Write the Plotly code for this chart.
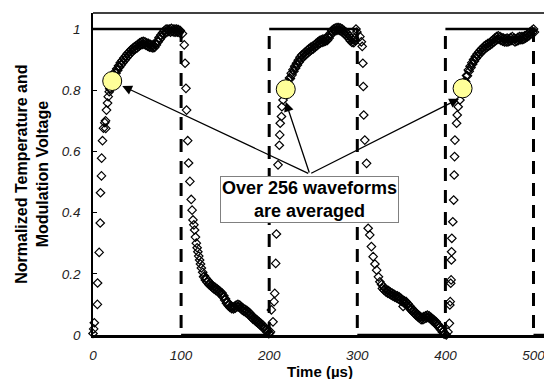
import plotly.graph_objects as go

# ---------------- data ----------------
# modulation square wave (corner points)
wave_t = [0, 100, 100, 200, 200, 300, 300, 400, 400, 500, 500, 525]
wave_v = [1, 1, 0, 0, 1, 1, 0, 0, 1, 1, 0, 0]

# measured normalized temperature, phase by phase (upper edge of each band)
rise1_t = [0.0, 0.8, 1.5, 5.0, 5.2, 7.0, 8.2, 8.5, 9.6, 9.8,
           10.8, 11.9, 13.4, 14.2, 14.5, 15.3, 16.5, 17.3, 18.4,
           19, 21, 23, 25, 27, 29, 31, 33, 35, 37,
           39, 41, 43, 45, 47, 49, 51, 53, 55, 57,
           59, 61, 63, 65, 67, 69, 71, 73, 75, 77,
           79, 81, 83, 85, 87, 89, 91, 93, 95, 97, 99]
rise1_v = [0.005, 0.02, 0.04, 0.10, 0.17, 0.27, 0.366, 0.465, 0.52, 0.578,
           0.635, 0.676, 0.694, 0.70, 0.675, 0.735, 0.758, 0.779, 0.795,
           0.805, 0.825, 0.845, 0.86, 0.87, 0.88, 0.89, 0.897, 0.905, 0.912,
           0.92, 0.925, 0.932, 0.937, 0.942, 0.946, 0.95, 0.955, 0.958, 0.96,
           0.958, 0.955, 0.953, 0.95, 0.948, 0.947, 0.952, 0.962, 0.972, 0.98,
           0.988, 0.995, 1.0, 1.0, 1.0, 1.002, 1.0, 1.0, 1.0, 0.998, 0.995]
# lower edge of the rise-1 band
rise1b_t = [20, 22, 24, 26, 28, 30, 32, 34, 36, 38,
            40, 42, 44, 46, 48, 50, 52, 54, 56, 58,
            60, 62, 64, 66, 68, 70, 72, 74, 76, 78,
            80, 82, 84, 86, 88, 90, 92, 94, 96, 98]
rise1b_v = [0.805, 0.825, 0.842, 0.855, 0.865, 0.875, 0.883, 0.89, 0.898, 0.905,
            0.912, 0.918, 0.925, 0.93, 0.934, 0.938, 0.943, 0.947, 0.95, 0.95,
            0.947, 0.944, 0.941, 0.94, 0.938, 0.94, 0.948, 0.958, 0.966, 0.974,
            0.982, 0.988, 0.99, 0.992, 0.99, 0.992, 0.99, 0.99, 0.99, 0.988]

fall1_t = [101.5, 103.6, 104.5, 105.5, 106.2, 107.5, 108.5, 110, 111.5, 112.5,
           113.5, 114.5, 115.3, 116.3, 117.3, 118.2, 119, 120, 121, 122,
           123, 124.5, 126.5, 128.5, 130.5, 132.5, 134.5, 136.5, 138.5, 140.5,
           142.5, 144.5, 146.5, 148.5, 150.5, 152.5, 154.5, 156.5, 158.5, 160.5,
           162.5, 164.5, 166.5, 168.5, 170.5, 172.5, 174.5, 176.5, 178.5, 180.5,
           182.5, 184.5, 186.5, 188.5, 190.5, 192.5, 194.5, 196.5, 198.5, 200.5]
fall1_v = [0.985, 0.948, 0.888, 0.806, 0.735, 0.635, 0.562, 0.502, 0.443, 0.408,
           0.376, 0.36, 0.343, 0.32, 0.30, 0.285, 0.272, 0.258, 0.245, 0.232,
           0.219, 0.205, 0.193, 0.185, 0.178, 0.17, 0.165, 0.16, 0.156, 0.152,
           0.147, 0.142, 0.137, 0.128, 0.118, 0.108, 0.10, 0.095, 0.092, 0.094,
           0.098, 0.10, 0.098, 0.092, 0.087, 0.084, 0.081, 0.076, 0.07, 0.063,
           0.058, 0.053, 0.048, 0.043, 0.038, 0.033, 0.027, 0.02, 0.013, 0.006]
fall1b_t = [125.5, 127.5, 129.5, 131.5, 133.5, 135.5, 137.5, 139.5, 141.5, 143.5,
            145.5, 147.5, 149.5, 151.5, 153.5, 155.5, 157.5, 159.5, 161.5, 163.5,
            165.5, 167.5, 169.5, 171.5, 173.5, 175.5, 177.5, 179.5, 181.5, 183.5,
            185.5, 187.5, 189.5, 191.5, 193.5, 195.5, 197.5, 199.5]
fall1b_v = [0.19, 0.18, 0.172, 0.165, 0.16, 0.155, 0.15, 0.146, 0.142, 0.137,
            0.132, 0.124, 0.114, 0.104, 0.096, 0.09, 0.086, 0.085, 0.088, 0.092,
            0.092, 0.087, 0.081, 0.077, 0.074, 0.07, 0.065, 0.058, 0.052, 0.048,
            0.043, 0.038, 0.033, 0.028, 0.022, 0.016, 0.01, 0.004]

rise2_t = [201.5, 202.5, 204.3, 205.5, 206.3, 207.4, 208.2, 208.8, 209.3, 209.7,
           210, 211.5, 212, 212.5, 213.9, 214.4, 215.7, 217.5,
           219, 221, 223, 225, 227, 229, 231, 233, 235, 237,
           239, 241, 243, 245, 247, 249, 251, 253, 255, 257,
           259, 261, 263, 265, 267, 269, 271, 273, 275, 277,
           279, 281, 283, 285, 287, 289, 291, 293, 295, 297, 298.5, 299.5]
rise2_v = [0.01, 0.082, 0.043, 0.109, 0.136, 0.234, 0.33, 0.39, 0.45, 0.50,
           0.556, 0.62, 0.654, 0.692, 0.714, 0.746, 0.768, 0.79,
           0.805, 0.825, 0.84, 0.855, 0.867, 0.878, 0.888, 0.898, 0.908, 0.915,
           0.92, 0.925, 0.93, 0.935, 0.94, 0.943, 0.947, 0.952, 0.957, 0.962,
           0.965, 0.967, 0.968, 0.97, 0.975, 0.985, 0.995, 1.0, 1.003, 1.005,
           1.005, 1.003, 1.0, 0.995, 0.99, 0.985, 0.978, 0.97, 0.965, 0.97, 1.0, 0.99]
rise2b_t = [220, 222, 224, 226, 228, 230, 232, 234, 236, 238,
            240, 242, 244, 246, 248, 250, 252, 254, 256, 258,
            260, 262, 264, 266, 268, 270, 272, 274, 276, 278,
            280, 282, 284, 286, 288, 290, 292, 294, 296, 298]
rise2b_v = [0.805, 0.823, 0.838, 0.85, 0.862, 0.872, 0.882, 0.892, 0.90, 0.906,
            0.912, 0.917, 0.922, 0.927, 0.932, 0.935, 0.94, 0.945, 0.95, 0.954,
            0.956, 0.958, 0.96, 0.963, 0.97, 0.98, 0.988, 0.993, 0.995, 0.996,
            0.995, 0.992, 0.987, 0.982, 0.977, 0.97, 0.962, 0.956, 0.955, 0.962]

fall2_t = [303, 304.6, 305.6, 306.3, 306.8, 307.3, 308.5, 310.5, 311, 311.5,
           312, 312.3, 314.2, 316, 318, 320, 322, 324, 325.6, 327.5,
           329.5, 331.5, 333.5, 335.5, 337.5, 339.5, 341.5, 343.5, 345.5, 347.5,
           349.5, 351.5, 352, 353.5, 355.5, 357.5, 359.5, 361.5, 363.5, 365.5,
           367.5, 369.5, 371.5, 373.5, 375.5, 377.5, 379.5, 381.5, 383.5, 385.5,
           387.5, 389.5, 391.5, 393.5, 395.5, 397.5, 399.5]
fall2_v = [0.975, 0.958, 0.943, 0.888, 0.812, 0.719, 0.637, 0.561, 0.50, 0.44,
           0.39, 0.349, 0.327, 0.289, 0.256, 0.232, 0.212, 0.19, 0.174, 0.165,
           0.158, 0.152, 0.148, 0.145, 0.14, 0.137, 0.134, 0.13, 0.128, 0.125,
           0.12, 0.115, 0.093, 0.112, 0.109, 0.102, 0.095, 0.088, 0.082, 0.076,
           0.07, 0.065, 0.06, 0.058, 0.06, 0.063, 0.065, 0.063, 0.058, 0.053,
           0.048, 0.043, 0.035, 0.028, 0.022, 0.012, 0.005]
fall2b_t = [328.5, 330.5, 332.5, 334.5, 336.5, 338.5, 340.5, 342.5, 344.5, 346.5,
            348.5, 350.5, 352.5, 354.5, 356.5, 358.5, 360.5, 362.5, 364.5, 366.5,
            368.5, 370.5, 372.5, 374.5, 376.5, 378.5, 380.5, 382.5, 384.5, 386.5,
            388.5, 390.5, 392.5, 394.5, 396.5, 398.5]
fall2b_v = [0.152, 0.146, 0.141, 0.137, 0.134, 0.13, 0.127, 0.124, 0.121, 0.118,
            0.114, 0.11, 0.106, 0.102, 0.097, 0.09, 0.083, 0.077, 0.071, 0.065,
            0.06, 0.055, 0.05, 0.05, 0.053, 0.056, 0.057, 0.054, 0.048, 0.043,
            0.038, 0.032, 0.025, 0.018, 0.01, 0.003]

rise3_t = [401, 403, 404.5, 405, 405.5, 406, 406.5, 406.8, 407, 407.3,
           408.4, 409.4, 410, 410.4, 410.8, 412.7, 413.4, 414.5, 416.5, 418,
           420, 422, 424, 426, 428, 430, 432, 434, 436, 438,
           440, 442, 444, 446, 448, 450, 452, 454, 456, 458,
           460, 462, 464, 466, 468, 470, 472, 474, 476, 478,
           480, 482, 484, 486, 488, 490, 492, 494, 496, 498, 500, 501]
rise3_v = [0.0, 0.01, 0.038, 0.098, 0.109, 0.169, 0.18, 0.245, 0.272, 0.316,
           0.37, 0.441, 0.523, 0.583, 0.637, 0.692, 0.719, 0.746, 0.768, 0.79,
           0.81, 0.83, 0.848, 0.866, 0.878, 0.89, 0.90, 0.91, 0.918, 0.925,
           0.932, 0.938, 0.944, 0.948, 0.952, 0.955, 0.96, 0.965, 0.97, 0.975,
           0.978, 0.975, 0.972, 0.97, 0.968, 0.97, 0.968, 0.972, 0.975, 0.97,
           0.968, 0.972, 0.975, 0.975, 0.975, 0.978, 0.98, 0.985, 0.99, 0.995, 1.0, 0.99]
rise3b_t = [421, 423, 425, 427, 429, 431, 433, 435, 437, 439,
            441, 443, 445, 447, 449, 451, 453, 455, 457, 459,
            461, 463, 465, 467, 469, 471, 473, 475, 477, 479,
            481, 483, 485, 487, 489, 491, 493, 495, 497, 499]
rise3b_v = [0.81, 0.828, 0.847, 0.862, 0.874, 0.885, 0.895, 0.904, 0.912, 0.918,
            0.925, 0.93, 0.936, 0.94, 0.944, 0.948, 0.952, 0.957, 0.962, 0.966,
            0.966, 0.963, 0.96, 0.958, 0.958, 0.958, 0.96, 0.963, 0.962, 0.958,
            0.96, 0.963, 0.965, 0.965, 0.967, 0.97, 0.974, 0.978, 0.984, 0.99]

# highlighted points (yellow circles) and arrow geometry
mark_t = [21.8, 218.8, 419.5]
mark_v = [0.83, 0.803, 0.806]
arrow_head_t = [33.2, 218.75, 415.5]
arrow_head_v = [0.814, 0.762, 0.772]
arrow_tail = (246.0, 0.526)
note_pos = (245.5, 0.444)
note_text = "Over 256 waveforms<br>are averaged"

x_ticks = [0, 100, 200, 300, 400, 500]
y_ticks = [0, 0.2, 0.4, 0.6, 0.8, 1]
y_tick_text = ["0", "0.2", "0.4", "0.6", "0.8", "1"]

FONT = "Liberation Sans, Arial, sans-serif"

# ---------------- figure ----------------
fig = go.Figure()

# square wave: horizontal parts solid, vertical edges dashed
hx, hy, vx, vy = [], [], [], []
for i in range(len(wave_t) - 1):
    if wave_v[i] == wave_v[i + 1]:
        hx += [wave_t[i], wave_t[i + 1], None]
        hy += [wave_v[i], wave_v[i + 1], None]
    else:
        vx += [wave_t[i], wave_t[i + 1], None]
        vy += [wave_v[i], wave_v[i + 1], None]

fig.add_trace(go.Scatter(x=vx, y=vy, mode="lines",
                         line=dict(color="black", width=3, dash="13px,9px"),
                         hoverinfo="skip", showlegend=False))
fig.add_trace(go.Scatter(x=hx, y=hy, mode="lines",
                         line=dict(color="black", width=2.5),
                         hoverinfo="skip", showlegend=False))

phases = [(rise1_t, rise1_v, rise1b_t, rise1b_v),
          (fall1_t, fall1_v, fall1b_t, fall1b_v),
          (rise2_t, rise2_v, rise2b_t, rise2b_v),
          (fall2_t, fall2_v, fall2b_t, fall2b_v),
          (rise3_t, rise3_v, rise3b_t, rise3b_v)]
for ta, va, tb, vb in phases:
    pts = sorted(list(zip(ta, va)) + list(zip(tb, vb)), key=lambda p: p[0])
    fig.add_trace(go.Scatter(x=[p[0] for p in pts], y=[p[1] for p in pts], mode="markers",
                             marker=dict(symbol="diamond-open", size=6.5, color="black",
                                         line=dict(color="black", width=1.2)),
                             cliponaxis=False, showlegend=False))

fig.add_trace(go.Scatter(x=mark_t, y=mark_v, mode="markers",
                         marker=dict(symbol="circle", size=19, color="#FFFF99",
                                     line=dict(color="black", width=1)),
                         showlegend=False))

annotations = []
for ht, hv in zip(arrow_head_t, arrow_head_v):
    annotations.append(dict(x=ht, y=hv, xref="x", yref="y",
                            ax=arrow_tail[0], ay=arrow_tail[1], axref="x", ayref="y",
                            text="", showarrow=True, arrowhead=2, arrowsize=1.5,
                            arrowwidth=1.3, arrowcolor="black", standoff=0, startstandoff=0))
annotations.append(dict(x=note_pos[0], y=note_pos[1], xref="x", yref="y",
                        text="<b>" + note_text + "</b>", showarrow=False,
                        font=dict(family=FONT, size=18, color="black"),
                        bgcolor="white", bordercolor="#808080", borderwidth=1,
                        borderpad=1, align="center"))
annotations.append(dict(x=-0.1334, y=0.5, xref="paper", yref="paper",
                        text="<b>Normalized Temperature and<br>Modulation Voltage</b>",
                        textangle=-90, showarrow=False, xanchor="center", yanchor="middle",
                        font=dict(family=FONT, size=16, color="black")))
annotations.append(dict(x=0.4956, y=-0.112, xref="paper", yref="paper",
                        text="<b>Time (µs)</b>", showarrow=False,
                        xanchor="center", yanchor="middle",
                        font=dict(family=FONT, size=15, color="black")))

# the page has an 8px body margin, so the figure is 8px smaller than the window
fig.update_layout(
    width=544, height=371,
    margin=dict(l=85, r=0, t=5, b=44),
    paper_bgcolor="white", plot_bgcolor="white",
    showlegend=False,
    annotations=annotations,
    shapes=[dict(type="line", xref="paper", yref="paper", x0=0, x1=1.01, y0=1, y1=1,
                 line=dict(color="black", width=1.5))],
    font=dict(family=FONT),
)
fig.update_xaxes(range=[0, 521], tickvals=x_ticks, ticktext=[str(v) for v in x_ticks],
                 showgrid=False, zeroline=False, showline=True, linecolor="black",
                 linewidth=2.5, ticks="", ticklabelstandoff=6,
                 tickfont=dict(family=FONT, size=13.5, color="#222", style="italic"))
fig.update_yaxes(range=[0, 1.0523], tickvals=y_ticks, ticktext=y_tick_text,
                 showgrid=False, zeroline=False, showline=True, linecolor="black",
                 linewidth=1.5, ticks="inside", ticklen=4, tickcolor="black",
                 ticklabelstandoff=8,
                 tickfont=dict(family=FONT, size=13.5, color="#222", style="italic"))

fig.write_html("out.html")
